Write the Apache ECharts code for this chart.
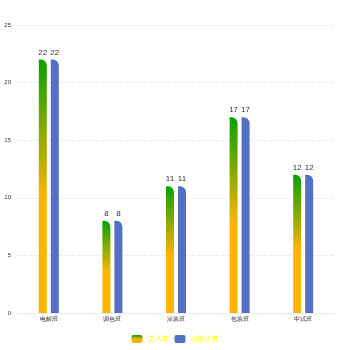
<!DOCTYPE html>
<html><head><meta charset="utf-8">
<script src="https://cdn.jsdelivr.net/npm/echarts@6/dist/echarts.min.js"></script>
<style>html,body{margin:0;padding:0;background:#fff}#c{width:350px;height:350px}</style>
</head><body><div id="c"></div>
<script>
const categories = ['电解班','调色班','涂装班','包装班','中试班'];
const totalValues = [22, 8, 11, 17, 12];
const attendValues = [22, 8, 11, 17, 12];
const seriesNames = ['总人数','出勤人数'];
const chart = echarts.init(document.getElementById('c'));
chart.setOption({
  animation:false,
  legend:{bottom:2,left:'center',itemWidth:11,itemHeight:8,itemGap:6,
    textStyle:{color:'#ffff00',fontSize:7},data:seriesNames},
  grid:{left:17,right:15,top:25,bottom:37,containLabel:false},
  xAxis:{type:'category',data:categories,
    axisLine:{lineStyle:{color:'#e3ecf7'}},axisTick:{show:false},
    axisLabel:{fontSize:6,color:'#333',margin:3}},
  yAxis:{type:'value',min:0,max:25,interval:5,
    axisLabel:{fontSize:6,color:'#333',margin:6},
    axisLine:{show:false},axisTick:{show:false},
    splitLine:{lineStyle:{color:'#e3ecf7',type:'dashed'}}},
  series:[
    {name:seriesNames[0],type:'bar',data:totalValues,barWidth:8,barGap:'50%',
     itemStyle:{borderRadius:[0,6,0,0],color:new echarts.graphic.LinearGradient(0,0,0,1,[
       {offset:0,color:'#0aa000'},{offset:0.55,color:'#ffb400'},{offset:1,color:'#ffb400'}])},
     label:{show:true,position:'top',fontSize:8,color:'#333',distance:3}},
    {name:seriesNames[1],type:'bar',data:attendValues,barWidth:8,
     itemStyle:{borderRadius:[0,6,0,0],color:'#5470c6'},
     label:{show:true,position:'top',fontSize:8,color:'#333',distance:3}}
  ]
});
</script></body></html>
